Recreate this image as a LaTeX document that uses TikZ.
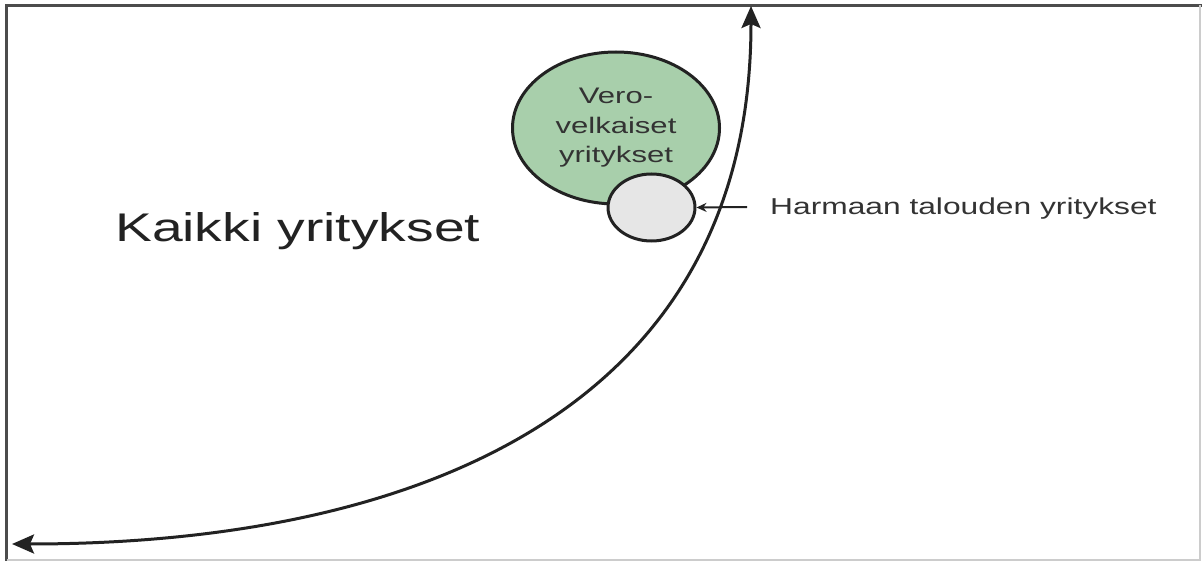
\documentclass[tikz,border=0pt]{standalone}
\usepackage{fontspec}
\usetikzlibrary{shapes.geometric,arrows.meta}
\newfontfamily\wfont[FakeStretch=1.38]{Liberation Sans}
\definecolor{vgreen}{HTML}{A8CFAB}
\definecolor{vgrey}{HTML}{E6E6E6}
\definecolor{outl}{HTML}{222222}
\definecolor{txtd}{HTML}{222222}
\definecolor{txtg}{HTML}{333333}
\begin{document}
\begin{tikzpicture}[x=1pt,y=-1pt,
  blob/.style={ellipse,draw=outl,line width=3pt,inner sep=0pt},
  arcline/.style={draw=outl,line width=3pt,{Stealth[length=22pt,width=19pt,inset=4pt]}-{Stealth[length=22pt,width=19pt,inset=4pt]}},
  pointer/.style={draw=outl,line width=2pt,-{Stealth[length=10pt,width=9pt]}},
  lbl/.style={inner sep=0pt,font=\wfont}]
\useasboundingbox (0,0) rectangle (1202,561);
\fill[white] (0,0) rectangle (1202,561);
% frame
\draw[line width=3pt,draw=black!70] (6.5,561) -- (6.5,5.5) -- (1202,5.5);
\draw[line width=2pt,draw=black!20] (1200,5.5) -- (1200,560) -- (6.5,560);
% circles
\node[blob,fill=vgreen,minimum width=207pt,minimum height=152pt,align=center,
      font=\wfont\fontsize{22.5}{29.5}\selectfont,text=txtg] (vero) at (616,128)
      {Vero-\\velkaiset\\yritykset};
\node[blob,fill=vgrey,minimum width=87pt,minimum height=67pt] (harm) at (651.5,207.5) {};
% big arc
\coordinate (bl) at (12,544);
\coordinate (tp) at (751,6);
\draw[arcline] (bl) .. controls (400,544) and (751,420) .. (tp);
% labels
\node[lbl,anchor=base west,text=txtd,font=\wfont\fontsize{40}{48}\selectfont] (kaikki) at (115,242) {Kaikki yritykset};
\node[lbl,anchor=base west,text=txtg,font=\wfont\fontsize{23}{28}\selectfont] (harmtxt) at (770,215) {Harmaan talouden yritykset};
\coordinate (pstart) at (747,207);
\draw[pointer] (pstart) -- (harm.east);
\end{tikzpicture}
\end{document}
